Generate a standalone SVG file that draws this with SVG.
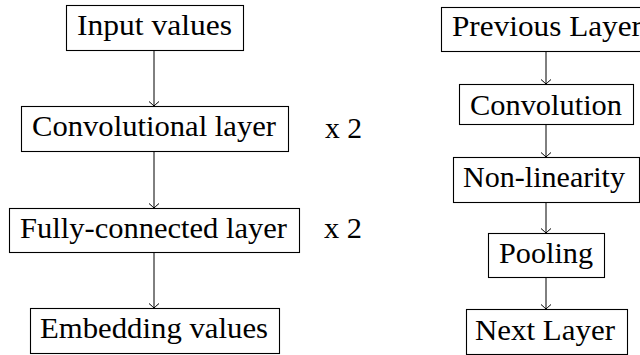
<svg xmlns="http://www.w3.org/2000/svg" width="640" height="355" viewBox="0 0 640 355">
<style>
.box{fill:#fff;stroke:#000;stroke-width:1.1}
.lbl{font-family:"Liberation Serif",serif;font-size:29px}
.edge{stroke:#000;stroke-width:1;fill:none}
</style>
<rect width="640" height="355" fill="#fff"/>
<g id="connectors" class="edge">
<path d="M154,50.5V106M149,101.5Q152.8,104.8 154,106Q155.2,104.8 159,101.5"/>
<path d="M154,151.5V208M149,203.5Q152.8,206.8 154,208Q155.2,206.8 159,203.5"/>
<path d="M154,252.5V308M149,303.5Q152.8,306.8 154,308Q155.2,306.8 159,303.5"/>
<path d="M546,51.5V84M541,79.5Q544.8,82.8 546,84Q547.2,82.8 551,79.5"/>
<path d="M546,124.5V157M541,152.5Q544.8,155.8 546,157Q547.2,155.8 551,152.5"/>
<path d="M546,202.5V233M541,228.5Q544.8,231.8 546,233Q547.2,231.8 551,228.5"/>
<path d="M546,277.5V309M541,304.5Q544.8,307.8 546,309Q547.2,307.8 551,304.5"/>
</g>
<g id="input">
<rect class="box" x="66.5" y="5.5" width="177" height="45"/>
<text class="lbl" x="77" y="35" textLength="155" lengthAdjust="spacingAndGlyphs">Input values</text>
</g>
<g id="conv-layer">
<rect class="box" x="21.5" y="106.5" width="267" height="45"/>
<text class="lbl" x="32" y="136" textLength="244" lengthAdjust="spacingAndGlyphs">Convolutional layer</text>
</g>
<g id="conv-repeat">
<text class="lbl" x="325" y="138" textLength="37" lengthAdjust="spacingAndGlyphs">x 2</text>
</g>
<g id="fc-layer">
<rect class="box" x="9.5" y="208.5" width="290" height="44"/>
<text class="lbl" x="20" y="238" textLength="267" lengthAdjust="spacingAndGlyphs">Fully-connected layer</text>
</g>
<g id="fc-repeat">
<text class="lbl" x="324" y="238" textLength="38" lengthAdjust="spacingAndGlyphs">x 2</text>
</g>
<g id="embedding">
<rect class="box" x="30.5" y="308.5" width="249" height="45"/>
<text class="lbl" x="40" y="338" textLength="228" lengthAdjust="spacingAndGlyphs">Embedding values</text>
</g>
<g id="previous-layer">
<rect class="box" x="441.5" y="7.5" width="210" height="44"/>
<text class="lbl" x="452" y="36" textLength="190" lengthAdjust="spacingAndGlyphs">Previous Layer</text>
</g>
<g id="convolution">
<rect class="box" x="459.5" y="84.5" width="174" height="40"/>
<text class="lbl" x="470" y="115" textLength="152" lengthAdjust="spacingAndGlyphs">Convolution</text>
</g>
<g id="nonlinearity">
<rect class="box" x="453.5" y="157.5" width="186" height="45"/>
<text class="lbl" x="463" y="187" textLength="162" lengthAdjust="spacingAndGlyphs">Non-linearity</text>
</g>
<g id="pooling">
<rect class="box" x="488.5" y="233.5" width="116" height="44"/>
<text class="lbl" x="499" y="263" textLength="94" lengthAdjust="spacingAndGlyphs">Pooling</text>
</g>
<g id="next-layer">
<rect class="box" x="466.5" y="309.5" width="161" height="45"/>
<text class="lbl" x="475" y="340" textLength="140" lengthAdjust="spacingAndGlyphs">Next Layer</text>
</g>
</svg>
